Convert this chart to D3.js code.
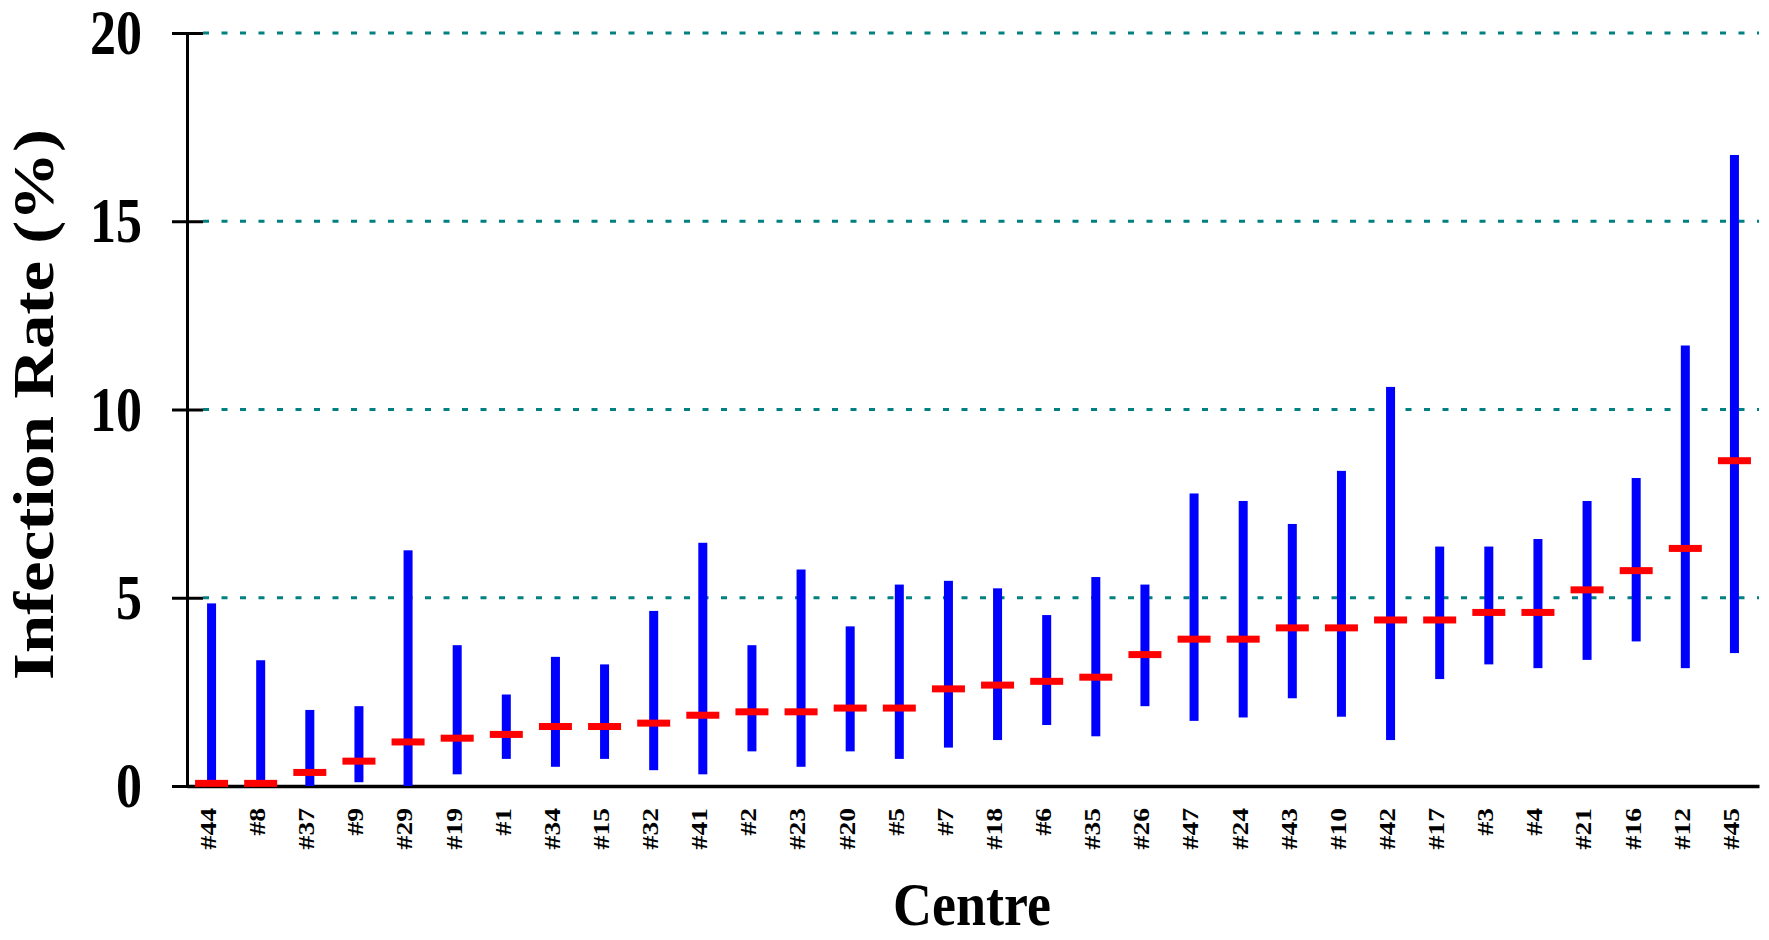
<!DOCTYPE html>
<html>
<head>
<meta charset="utf-8">
<script src="https://cdn.jsdelivr.net/npm/d3@7"></script>
<style>
  html, body { margin: 0; padding: 0; background: #fff; }
  svg { display: block; }
  text { font-family: "Liberation Serif", "Times New Roman", serif; font-weight: bold; fill: #000; }
</style>
</head>
<body>
<svg id="chart" width="1769" height="940"></svg>
<script>
// ---- data ----
const categories = ["#44","#8","#37","#9","#29","#19","#1","#34","#15","#32","#41","#2","#23","#20","#5","#7","#18","#6","#35","#26","#47","#24","#43","#10","#42","#17","#3","#4","#21","#16","#12","#45"];
const pointValues = [0.07,0.07,0.36,0.66,1.17,1.27,1.37,1.58,1.58,1.67,1.88,1.97,1.97,2.07,2.07,2.58,2.68,2.78,2.89,3.49,3.90,3.90,4.20,4.20,4.41,4.41,4.61,4.61,5.21,5.72,6.31,8.64];
const lowerValues = [0,0,0,0.10,0,0.31,0.72,0.51,0.72,0.42,0.31,0.92,0.51,0.92,0.72,1.02,1.22,1.62,1.32,2.12,1.73,1.82,2.33,1.84,1.22,2.84,3.23,3.13,3.35,3.84,3.13,3.53];
const upperValues = [4.85,3.34,2.02,2.12,6.26,3.74,2.43,3.43,3.23,4.65,6.46,3.74,5.75,4.24,5.35,5.45,5.25,4.54,5.55,5.35,7.77,7.57,6.96,8.37,10.60,6.36,6.36,6.56,7.57,8.18,11.70,16.76];
const yTicks = [0, 5, 10, 15, 20];
const gridValues = [5, 10, 15, 20];
const xTitle = "Centre";
const yTitle = "Infection Rate (%)";

const rows = categories.map((c, i) => ({ c, p: pointValues[i], lo: lowerValues[i], hi: upperValues[i] }));

// ---- layout ----
const svg = d3.select("#chart");
const X0 = 187, X1 = 1759, Y0 = 786, Y1 = 33;
const stretch = 1.2;

const x = d3.scaleBand().domain(categories).range([X0, X1]).padding(0);
const y = d3.scaleLinear().domain([0, 20]).range([Y0, Y1]);

// gridlines
svg.append("g").selectAll("line").data(gridValues).join("line")
  .attr("x1", X0 + 16).attr("x2", X1)
  .attr("y1", d => y(d)).attr("y2", d => y(d))
  .attr("stroke", "#008080").attr("stroke-width", 3)
  .attr("stroke-dasharray", "6,12.5");

// x axis
const gx = svg.append("g").attr("transform", `translate(0,${Y0})`)
  .call(d3.axisBottom(x).tickSize(0).tickSizeOuter(0).tickPadding(0));
gx.select(".domain").attr("stroke", "#000").attr("stroke-width", 3.5);
gx.selectAll(".tick text")
  .attr("x", 0).attr("y", 0).attr("dy", "0.19em")
  .attr("text-anchor", "end")
  .attr("font-size", 23)
  .attr("font-family", "Liberation Serif")
  .attr("font-weight", "bold")
  .attr("transform", `translate(0,22) scale(1,${stretch}) rotate(-90)`);

// y axis (outer ticks + labels)
const gy = svg.append("g").attr("transform", `translate(${X0},0)`)
  .call(d3.axisLeft(y).tickValues(yTicks).tickSize(15).tickSizeOuter(0).tickPadding(30));
gy.select(".domain").attr("stroke", "#000").attr("stroke-width", 3);
gy.selectAll(".tick line").attr("stroke", "#000").attr("stroke-width", 3);
gy.selectAll(".tick text")
  .attr("font-size", 52)
  .attr("font-family", "Liberation Serif")
  .attr("font-weight", "bold")
  .attr("dy", "0.33em")
  .attr("transform", `scale(1,${stretch})`);

// inner tick extensions
const gy2 = svg.append("g").attr("transform", `translate(${X0},0)`)
  .call(d3.axisRight(y).tickValues(yTicks).tickSize(16).tickSizeOuter(0).tickFormat(""));
gy2.select(".domain").remove();
gy2.selectAll(".tick line").attr("stroke", "#000").attr("stroke-width", 3);

// interval bars
const cx = d => x(d.c) + x.bandwidth() / 2;
svg.append("g").selectAll("rect").data(rows).join("rect")
  .attr("x", d => cx(d) - 4.5)
  .attr("width", 9)
  .attr("y", d => y(d.hi))
  .attr("height", d => y(d.lo) - y(d.hi))
  .attr("fill", "#0000ff");

// point estimates
svg.append("g").selectAll("rect").data(rows).join("rect")
  .attr("x", d => cx(d) - 16.5)
  .attr("width", 33)
  .attr("y", d => y(d.p) - 3.5)
  .attr("height", 7)
  .attr("fill", "#ff0000");

// titles
svg.append("text")
  .attr("transform", `translate(${(X0 + X1) / 2 - 1},925) scale(1,1.15)`)
  .attr("text-anchor", "middle")
  .attr("font-size", 54)
  .text(xTitle);

svg.append("text")
  .attr("transform", `translate(53,${(Y0 + Y1) / 2 - 5}) scale(1,1.23) rotate(-90)`)
  .attr("text-anchor", "middle")
  .attr("font-size", 56)
  .text(yTitle);
</script>
</body>
</html>
